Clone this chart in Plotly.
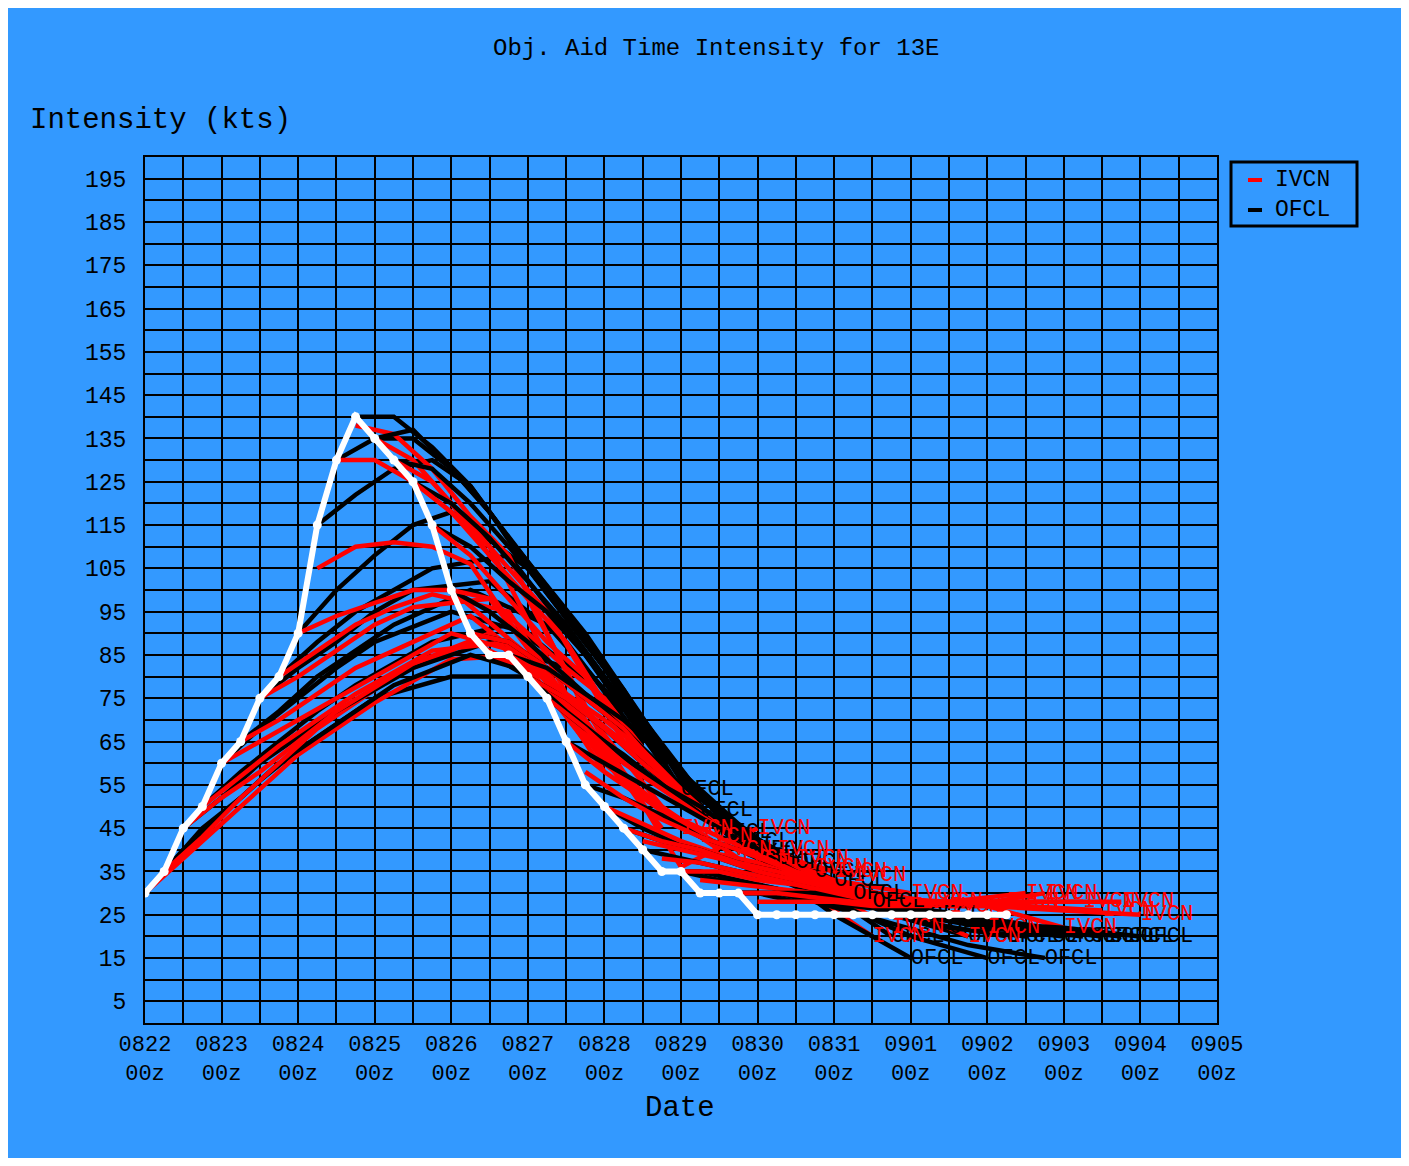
import plotly.graph_objects as go

# ---------------- data ----------------
lead_hours = [0, 12, 24, 36, 48, 72, 96, 120]

init_hours = [0, 6, 12, 18, 24, 30, 36, 42, 48, 54, 60, 66, 72, 78, 84, 90,
              96, 102, 108, 114, 120, 126, 132, 138, 144, 150, 156, 162, 168,
              174, 180, 186, 192]

bt_hours = [0, 6, 12, 18, 24, 30, 36, 42, 48, 54, 60, 66, 72, 78, 84, 90,
            96, 102, 108, 114, 120, 126, 132, 138, 144, 150, 156, 162, 168,
            174, 180, 186, 192, 198, 204, 210, 216, 222, 228, 234, 240, 246,
            252, 258, 264, 270]
bt_kts = [30, 35, 45, 50, 60, 65, 75, 80, 90, 115, 130, 140, 135, 130, 125, 115,
          100, 90, 85, 85, 80, 75, 65, 55, 50, 45, 40, 35, 35, 30, 30, 30,
          25, 25, 25, 25, 25, 25, 25, 25, 25, 25, 25, 25, 25, 25]

ofcl_kts = [
    [30, 40, 48, 56, 63, 75, 80, 80],
    [35, 45, 52, 60, 66, 78, 85, 80],
    [45, 52, 60, 66, 72, 82, 88, 82],
    [50, 58, 65, 72, 78, 88, 92, 80],
    [60, 68, 75, 82, 88, 95, 90, 75],
    [65, 72, 80, 86, 92, 100, 92, 72],
    [75, 82, 88, 95, 100, 102, 88, 65],
    [80, 88, 95, 100, 105, 108, 85, 60],
    [90, 100, 108, 115, 118, 105, 82, 54],
    [115, 122, 128, 130, 124, 100, 77, 49],
    [130, 135, 135, 128, 118, 95, 70, 44],
    [140, 140, 133, 124, 112, 90, 64, 42],
    [135, 137, 128, 118, 105, 82, 57, 40],
    [130, 128, 120, 110, 100, 76, 53, 38],
    [125, 120, 112, 102, 92, 68, 48, 37],
    [115, 110, 102, 95, 85, 62, 45, 35],
    [100, 95, 88, 80, 72, 55, 42, 33],
    [90, 88, 82, 75, 68, 50, 38, 30],
    [85, 80, 75, 68, 60, 45, 35, 28],
    [85, 82, 76, 70, 62, 46, 32, 20],
    [80, 72, 65, 58, 52, 38, 25, 15],
    [75, 68, 62, 55, 50, 37, 30, 25],
    [65, 60, 55, 50, 45, 35, 28, 22],
    [55, 52, 48, 43, 40, 32, 25, 20],
    [50, 45, 41, 38, 35, 28, 20, 15],
    [45, 42, 40, 37, 35, 28, 23, 20],
    [40, 38, 36, 34, 32, 27, 22, 20],
    [35, 35, 33, 31, 28, 23, 18, 15],
    [35, 33, 32, 30, 28, 25, 22, 20],
    [30, 30, 30, 28, 27, 25, 22, 20],
    [30, 30, 28, 28, 27, 25, 22, 20],
    [30, 30, 30, 28, 27, 25, 22, 20],
    [25, 25, 25, 25, 25, 23, 22, 20],
]

ivcn_kts = [
    [30, 38, 46, 54, 62, 74, 84, 85],
    [35, 43, 52, 60, 68, 80, 88, 80],
    [45, 52, 58, 65, 72, 83, 90, 72],
    [50, 57, 64, 70, 76, 86, 88, 65],
    [60, 65, 70, 75, 80, 90, 85, 58],
    [65, 70, 76, 82, 86, 94, 80, 55],
    [75, 80, 86, 92, 96, 98, 75, 50],
    [80, 86, 92, 96, 99, 95, 68, 45],
    [90, 94, 97, 100, 100, 85, 60, 45],
    [105, 110, 111, 110, 106, 80, 57, 43],
    [130, 130, 125, 118, 110, 76, 52, 40],
    [138, 136, 128, 117, 108, 72, 50, 38],
    [135, 130, 120, 108, 98, 65, 36, 45],
    [130, 125, 115, 105, 95, 65, 48, 40],
    [125, 118, 108, 98, 88, 60, 45, 38],
    [115, 108, 98, 88, 80, 56, 42, 36],
    [100, 98, 90, 82, 75, 52, 40, 35],
    [90, 88, 82, 75, 68, 48, 38, 34],
    [85, 82, 76, 70, 63, 45, 32, 20],
    [85, 80, 72, 65, 58, 42, 32, 22],
    [80, 75, 68, 60, 53, 40, 33, 30],
    [75, 68, 60, 54, 48, 37, 31, 28],
    [65, 58, 52, 47, 43, 35, 30, 27],
    [58, 52, 47, 43, 40, 33, 28, 20],
    [50, 46, 42, 39, 37, 31, 26, 22],
    [45, 42, 40, 37, 35, 30, 27, 28],
    [42, 40, 38, 35, 33, 29, 28, 30],
    [38, 37, 35, 33, 31, 28, 27, 30],
    [35, 35, 33, 32, 30, 28, 27, 22],
    [33, 32, 31, 30, 29, 28, 28, 28],
    [30, 30, 30, 29, 28, 27, 27, 26],
    [30, 30, 29, 28, 28, 28, 28, 28],
    [28, 28, 28, 27, 27, 27, 26, 25],
]

label_first_init = 8

x_tick_hours = [0, 24, 48, 72, 96, 120, 144, 168, 192, 216, 240, 264, 288, 312, 336]
x_tick_text = ["0822<br>00z", "0823<br>00z", "0824<br>00z", "0825<br>00z",
               "0826<br>00z", "0827<br>00z", "0828<br>00z", "0829<br>00z",
               "0830<br>00z", "0831<br>00z", "0901<br>00z", "0902<br>00z",
               "0903<br>00z", "0904<br>00z", "0905<br>00z"]
y_tick_vals = [5, 15, 25, 35, 45, 55, 65, 75, 85, 95, 105, 115, 125, 135,
               145, 155, 165, 175, 185, 195]

# ---------------- style ----------------
BG = "#3399FF"
RED = "#FF0000"
FONT = "Liberation Mono"
LW = 4.5

fig = go.Figure()

for i, t0 in enumerate(init_hours):
    xs = [t0 + L for L in lead_hours]
    fig.add_trace(go.Scatter(x=xs, y=ofcl_kts[i], mode="lines",
                             line=dict(color="black", width=LW),
                             showlegend=False, hoverinfo="skip"))
    fig.add_trace(go.Scatter(x=xs, y=ivcn_kts[i], mode="lines",
                             line=dict(color=RED, width=LW),
                             showlegend=False, hoverinfo="skip"))

# end-point labels
lab_idx = list(range(label_first_init, len(init_hours)))
end_x = [init_hours[i] + lead_hours[-1] for i in lab_idx]
fig.add_trace(go.Scatter(x=end_x, y=[ofcl_kts[i][-1] for i in lab_idx],
                         mode="text", text=["OFCL"] * len(lab_idx),
                         textposition="middle right",
                         textfont=dict(family=FONT, size=22, color="black"),
                         showlegend=False, hoverinfo="skip"))
fig.add_trace(go.Scatter(x=end_x, y=[ivcn_kts[i][-1] for i in lab_idx],
                         mode="text", text=["IVCN"] * len(lab_idx),
                         textposition="middle right",
                         textfont=dict(family=FONT, size=22, color=RED),
                         showlegend=False, hoverinfo="skip"))

# best track
fig.add_trace(go.Scatter(x=bt_hours, y=bt_kts, mode="lines+markers",
                         line=dict(color="white", width=6),
                         marker=dict(symbol="circle", size=9, color="white"),
                         showlegend=False, hoverinfo="skip"))

W, H = 1393, 1150
fig.update_layout(
    width=W, height=H,
    margin=dict(l=137, r=184, t=149, b=135, autoexpand=False),
    paper_bgcolor=BG, plot_bgcolor=BG,
    font=dict(family=FONT, color="black", size=24),
    showlegend=False,
    xaxis=dict(range=[0, 336], tickvals=x_tick_hours, ticktext=x_tick_text,
               showgrid=True, gridcolor="black", gridwidth=2,
               minor=dict(dtick=12, tick0=0, showgrid=True,
                          gridcolor="black", gridwidth=2),
               showline=True, mirror=True, linecolor="black", linewidth=2,
               zeroline=False, ticks="", ticklabelstandoff=0,
               tickfont=dict(family=FONT, size=22, color="black")),
    yaxis=dict(range=[0, 200], tickvals=y_tick_vals,
               showgrid=True, gridcolor="black", gridwidth=2,
               minor=dict(dtick=5, tick0=0, showgrid=True,
                          gridcolor="black", gridwidth=2),
               showline=True, mirror=True, linecolor="black", linewidth=2,
               zeroline=False, ticks="", ticklabelstandoff=12,
               tickfont=dict(family=FONT, size=23, color="black")),
)

def px_x(page_x):
    return (page_x - 145) / 1072.0

def px_y(page_y):
    return (1023 - page_y) / 866.0

annotations = [
    dict(text="Obj. Aid Time Intensity for 13E", x=px_x(716), y=px_y(48),
         xanchor="center", yanchor="middle", font=dict(size=24)),
    dict(text="Intensity (kts)", x=px_x(28), y=px_y(120),
         xanchor="left", yanchor="middle", font=dict(size=29)),
    dict(text="Date", x=px_x(680), y=px_y(1108),
         xanchor="center", yanchor="middle", font=dict(size=29)),
    dict(text="IVCN", x=px_x(1273), y=px_y(180),
         xanchor="left", yanchor="middle", font=dict(size=23)),
    dict(text="OFCL", x=px_x(1273), y=px_y(210),
         xanchor="left", yanchor="middle", font=dict(size=23)),
]
for a in annotations:
    a.update(xref="paper", yref="paper", showarrow=False)
fig.update_layout(annotations=annotations)

shapes = [
    dict(type="rect", x0=px_x(1231), x1=px_x(1357), y0=px_y(226), y1=px_y(162),
         line=dict(color="black", width=3), fillcolor=BG),
    dict(type="line", x0=px_x(1248), x1=px_x(1262), y0=px_y(180), y1=px_y(180),
         line=dict(color=RED, width=4)),
    dict(type="line", x0=px_x(1248), x1=px_x(1262), y0=px_y(210), y1=px_y(210),
         line=dict(color="black", width=4)),
]
for s in shapes:
    s.update(xref="paper", yref="paper")
fig.update_layout(shapes=shapes)

fig.write_html("out.html")
